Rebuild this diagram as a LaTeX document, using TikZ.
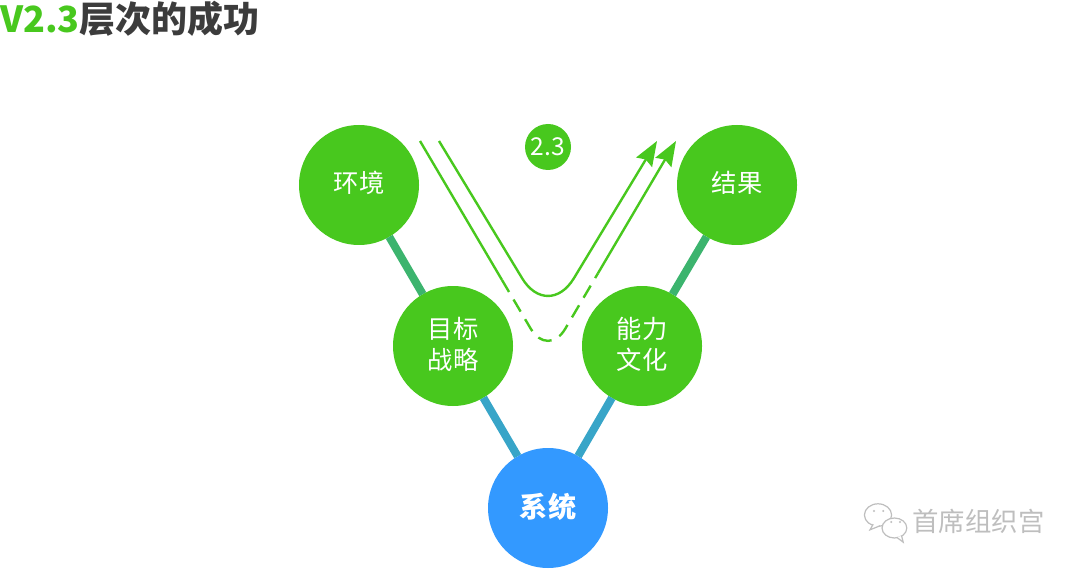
\documentclass[tikz,border=0pt]{standalone}
\usepackage{fontspec}
\setmainfont{Noto Sans CJK SC}
\usetikzlibrary{positioning,calc,arrows.meta}
\definecolor{leafgreen}{RGB}{72,200,30}
\definecolor{skyblue}{RGB}{51,153,255}
\definecolor{upperlink}{RGB}{60,180,110}
\definecolor{lowerlink}{RGB}{56,165,200}
\definecolor{titlegray}{RGB}{60,60,60}
\definecolor{markgray}{RGB}{190,190,190}

\begin{document}
\begin{tikzpicture}[main node/.style={circle,fill=leafgreen,text=white,minimum size=3cm,inner sep=0pt,outer sep=0pt,align=center,text depth=0.14cm,font=\fontsize{18}{22.5}\selectfont},
                    link/.style={line width=0.2cm},
                    flow/.style={draw=leafgreen,line width=0.06cm},
                    flow tip/.style={-{Stealth[length=0.62cm,width=0.46cm,inset=0.08cm]}},
                    bubble/.style={draw=markgray,fill=white,line width=0.03cm},
                    eye/.style={circle,fill=markgray,minimum size=0.06cm,inner sep=0pt}
                   ]
   \useasboundingbox (0,0) rectangle (27,14.225);
   \node[main node] (env) at (8.975,9.6) {环境};
   \node[main node] (res) at (18.425,9.6) {结果};
   \node[main node] (goal) at (11.325,5.575) {目标\\战略};
   \node[main node] (abil) at (16.05,5.575) {能力\\文化};
   \node[main node,fill=skyblue,font=\fontsize{20}{24}\selectfont\bfseries] (sys) at (13.7,1.525) {系统};
   \node[main node,minimum size=1.15cm,text depth=0pt,font=\fontsize{17.5}{20}\selectfont] (ver) at (13.7,10.55) {2.3};
   \path%
     (env) edge [link,upperlink] (goal)
     (res) edge [link,upperlink] (abil)
     (goal) edge [link,lowerlink] (sys)
     (abil) edge [link,lowerlink] (sys);
   % inner path
   \coordinate (in1) at (10.975,10.7);
   \coordinate (in2) at (13.7,6.2);
   \coordinate (in3) at (16.425,10.7);
   \draw[flow,flow tip,rounded corners=1.25cm] (in1) -- (in2) -- (in3);
   % outer path, dashed in the middle
   \coordinate (out1) at (10.5,10.7);
   \coordinate (out2) at (13.7,5.275);
   \coordinate (out3) at (16.9,10.7);
   \coordinate (cut1) at ($(out1)!0.64!(out2)$);
   \coordinate (cut2) at ($(out2)!0.39!(out3)$);
   \draw[flow] (out1) -- (cut1);
   \draw[flow,dash pattern=on 0.35cm off 0.22cm,rounded corners=0.85cm] (cut1) -- (out2) -- (cut2);
   \draw[flow,flow tip] (cut2) -- (out3);
   % title and mark
   \node[anchor=west,inner sep=0pt,font=\fontsize{25.6}{30}\selectfont\bfseries,text=titlegray] (title) at (0,13.75) {\textcolor{leafgreen}{V2.3}层次的成功};
   \draw[bubble] (21.95,1.35) ellipse (0.34 and 0.28);
   \draw[bubble] (21.83,1.12) -- (21.75,0.98) -- (22.0,1.08);
   \node[eye] (eye1) at (21.85,1.45) {};
   \node[eye] (eye2) at (22.08,1.45) {};
   \draw[bubble] (22.36,1.025) ellipse (0.31 and 0.25);
   \draw[bubble] (22.42,0.79) -- (22.58,0.67) -- (22.54,0.83);
   \node[eye] (eye3) at (22.28,1.175) {};
   \node[eye] (eye4) at (22.5,1.175) {};
   \node[anchor=west,inner sep=0pt,text=markgray,font=\fontsize{18.8}{22}\selectfont] (mark) at (22.8,1.2) {首席组织宫};
 \end{tikzpicture}
\end{document}
